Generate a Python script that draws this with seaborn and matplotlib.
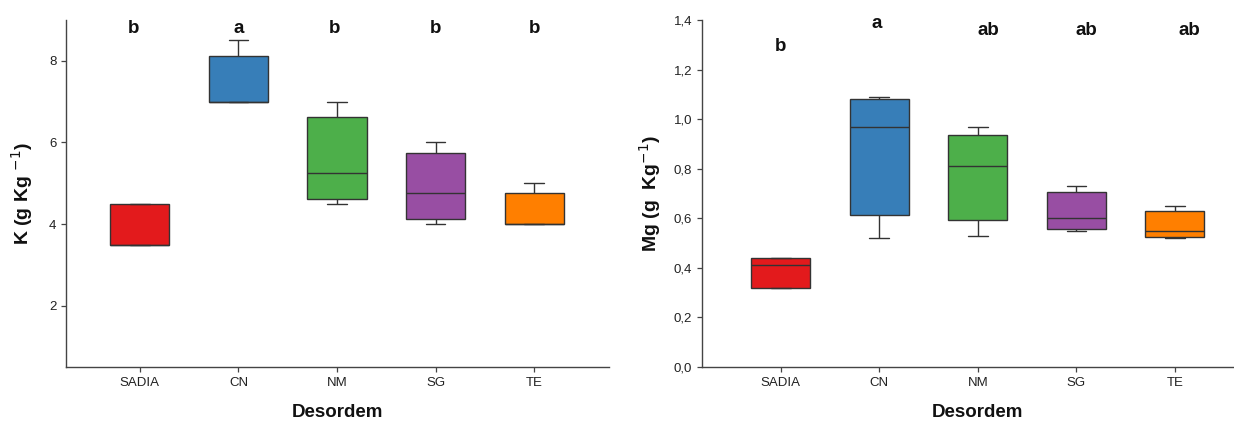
import matplotlib
matplotlib.use("Agg")
import matplotlib.pyplot as plt
from matplotlib.ticker import FuncFormatter
import numpy as np
import pandas as pd
import seaborn as sns

# Disorder classes on the x axis
categories = ["SADIA", "CN", "NM", "SG", "TE"]

# Five-number summaries per class (min, Q1, median, Q3, max)
k_sadia = [3.5, 3.5, 3.5, 4.5, 4.5]
k_cn = [7.0, 7.0, 7.0, 8.12, 8.5]
k_nm = [4.5, 4.62, 5.25, 6.62, 7.0]
k_sg = [4.0, 4.12, 4.75, 5.75, 6.0]
k_te = [4.0, 4.0, 4.0, 4.75, 5.0]

mg_sadia = [0.32, 0.32, 0.41, 0.44, 0.44]
mg_cn = [0.52, 0.612, 0.97, 1.08, 1.09]
mg_nm = [0.53, 0.595, 0.81, 0.935, 0.97]
mg_sg = [0.55, 0.555, 0.60, 0.705, 0.73]
mg_te = [0.52, 0.525, 0.55, 0.63, 0.65]

# Mean-separation letters
k_letters = ["b", "a", "b", "b", "b"]
mg_letters = ["b", "a", "ab", "ab", "ab"]
k_letter_y = [8.78, 8.78, 8.78, 8.78, 8.78]
mg_letter_y = [1.292, 1.387, 1.357, 1.357, 1.357]

colors = ["#E31A1C", "#377EB8", "#4DAF4A", "#984EA3", "#FF7F00"]

sns.set_style("ticks")
plt.rcParams["font.family"] = ["Liberation Sans", "DejaVu Sans"]


def long_form(groups):
    rows = []
    for cat, vals in zip(categories, groups):
        for v in vals:
            rows.append({"Desordem": cat, "valor": v})
    return pd.DataFrame(rows)


k_df = long_form([k_sadia, k_cn, k_nm, k_sg, k_te])
mg_df = long_form([mg_sadia, mg_cn, mg_nm, mg_sg, mg_te])

fig = plt.figure(figsize=(12.34, 4.25), dpi=100)
ax1 = fig.add_axes([66 / 1234, 58 / 425, 543 / 1234, 347 / 425])
ax2 = fig.add_axes([702 / 1234, 58 / 425, 532 / 1234, 347 / 425])

line_col = "#333333"


def draw(ax, df, letters, letter_y, letter_dx):
    sns.boxplot(
        data=df, x="Desordem", y="valor", hue="Desordem", order=categories,
        hue_order=categories, palette=colors, saturation=1, width=0.6,
        whis=(0, 100), linecolor=line_col, linewidth=1.0, legend=False,
        capwidths=0.2, ax=ax,
    )
    for i, (lab, y) in enumerate(zip(letters, letter_y)):
        ax.text(i + letter_dx[i], y, lab, ha="center", va="center",
                fontsize=13.5, fontweight="bold", color="#111111")
    for s in ["top", "right"]:
        ax.spines[s].set_visible(False)
    for s in ["left", "bottom"]:
        ax.spines[s].set_color("#444444")
        ax.spines[s].set_linewidth(1.0)
    ax.tick_params(axis="both", colors="#444444", labelcolor="#222222",
                   labelsize=9.5, length=3.5, width=0.9, direction="out")
    ax.set_xlabel("Desordem", fontsize=13.5, fontweight="bold",
                  color="#111111")


draw(ax1, k_df, k_letters, k_letter_y, [-0.06, 0, -0.03, 0, 0])
ax1.set_ylim(0.5, 9.0)
ax1.set_yticks([2, 4, 6, 8])
ax1.set_xlim(-0.75, 4.76)
ax1.set_ylabel("K (g Kg $^{-1}$)", fontsize=14, fontweight="bold",
               color="#111111", labelpad=10)
ax1.xaxis.set_label_coords(0.5, -0.108)

draw(ax2, mg_df, mg_letters, mg_letter_y, [0, -0.03, 0.11, 0.1, 0.15])
ax2.set_ylim(0.0, 1.4)
ax2.set_yticks(np.arange(0, 1.41, 0.2))
ax2.yaxis.set_major_formatter(FuncFormatter(lambda v, p: f"{v:.1f}".replace(".", ",")))
ax2.set_xlim(-0.80, 4.6)
ax2.set_ylabel("Mg (g  Kg$^{-1}$)", fontsize=14, fontweight="bold",
               color="#111111", labelpad=8)
ax2.xaxis.set_label_coords((977 - 702) / 532, -0.108)

fig.savefig("out.png", dpi=100)
